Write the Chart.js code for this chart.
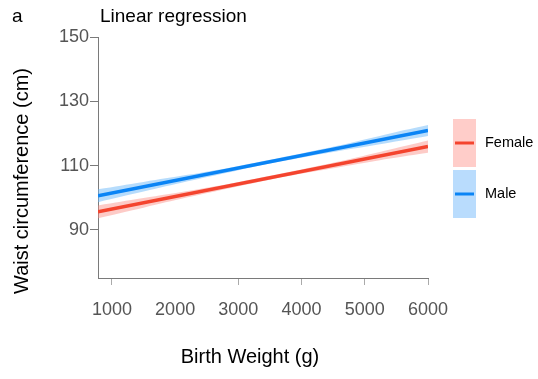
<!DOCTYPE html>
<html>
<head>
<meta charset="utf-8">
<script src="https://cdn.jsdelivr.net/npm/chart.js@4.4.1/dist/chart.umd.min.js"></script>
<style>
  html, body { margin: 0; padding: 0; background: #fff; }
  #wrap { width: 538px; height: 379px; }
</style>
</head>
<body>
<div id="wrap"><canvas id="regChart" width="538" height="379"></canvas></div>
<script>
// fitted lines (birth weight g -> waist cm)
const fitX = [780, 6000];
const maleFit = [100.6, 120.9];
const femaleFit = [95.6, 115.9];

// confidence band edges
const bandX = [780, 1500, 2200, 2900, 3500, 4100, 4800, 5400, 6000];
const maleUpper = [102.6, 104.9, 107.1, 109.5, 111.8, 114.2, 117.2, 120.0, 122.6];
const maleLower = [98.6, 101.9, 105.1, 108.1, 110.6, 112.8, 115.2, 117.2, 119.2];
const femaleUpper = [97.6, 99.9, 102.1, 104.5, 106.8, 109.2, 112.2, 115.0, 117.8];
const femaleLower = [93.6, 96.9, 100.1, 103.1, 105.6, 107.8, 110.2, 112.2, 114.0];

const xTicks = [1000, 2000, 3000, 4000, 5000, 6000];
const yTicks = [90, 110, 130, 150];

const seriesNames = ['Female', 'Male'];

const RED = '#f4442e';
const BLUE = '#0a84f5';
const RED_BAND = 'rgba(250, 140, 130, 0.45)';
const BLUE_BAND = 'rgba(110, 185, 250, 0.5)';
const AXIS = '#7a7a7a';
const FONT = "'Liberation Sans', Arial, sans-serif";

const pts = (xs, ys) => xs.map((x, i) => ({ x: x, y: ys[i] }));

function lineSet(label, xs, ys, color) {
    return { label, data: pts(xs, ys), borderColor: color, borderWidth: 3.5,
             pointRadius: 0, fill: false, tension: 0 };
}
function bandSet(label, xs, ys, color, fill) {
    return { label, data: pts(xs, ys), borderWidth: 0, borderColor: 'transparent',
             backgroundColor: color, pointRadius: 0, fill: fill, tension: 0.4 };
}

// panel letter, titles and the boxed legend on the right
const decorations = {
    id: 'decorations',
    afterDraw(chart) {
        const ctx = chart.ctx;
        ctx.save();
        ctx.fillStyle = '#000';
        ctx.textBaseline = 'middle';
        ctx.textAlign = 'left';
        ctx.font = '19px ' + FONT;
        ctx.fillText('a', 12, 17);
        ctx.fillText('Linear regression', 100, 17);

        ctx.font = '20px ' + FONT;
        ctx.textAlign = 'center';
        ctx.fillText('Birth Weight (g)', 250, 357);
        ctx.save();
        ctx.translate(22, 181);
        ctx.rotate(-Math.PI / 2);
        ctx.fillText('Waist circumference (cm)', 0, 0);
        ctx.restore();

        const rows = [
            { name: seriesNames[0], box: '#ffcdc9', line: RED, top: 119 },
            { name: seriesNames[1], box: '#b9dcfd', line: BLUE, top: 170 }
        ];
        ctx.textAlign = 'left';
        ctx.font = '14.5px ' + FONT;
        rows.forEach(r => {
            ctx.fillStyle = r.box;
            ctx.fillRect(453, r.top, 23, 48);
            ctx.strokeStyle = r.line;
            ctx.lineWidth = 3;
            ctx.beginPath();
            ctx.moveTo(455, r.top + 24);
            ctx.lineTo(474, r.top + 24);
            ctx.stroke();
            ctx.fillStyle = '#000';
            ctx.fillText(r.name, 485, r.top + 24);
        });
        ctx.restore();
    }
};

new Chart(document.getElementById('regChart'), {
    type: 'line',
    data: {
        datasets: [
            lineSet('Male', fitX, maleFit, BLUE),
            lineSet('Female', fitX, femaleFit, RED),
            bandSet('Male upper', bandX, maleUpper, BLUE_BAND, '+1'),
            bandSet('Male lower', bandX, maleLower, BLUE_BAND, false),
            bandSet('Female upper', bandX, femaleUpper, RED_BAND, '+1'),
            bandSet('Female lower', bandX, femaleLower, RED_BAND, false)
        ]
    },
    options: {
        responsive: false,
        animation: false,
        events: [],
        layout: { padding: { left: 0, top: 37, right: 110, bottom: 0 } },
        plugins: { legend: { display: false }, tooltip: { enabled: false } },
        scales: {
            x: {
                type: 'linear',
                min: 780,
                max: 6000,
                afterBuildTicks: s => { s.ticks = xTicks.map(v => ({ value: v })); },
                afterFit: s => { s.height = 101; },
                border: { color: AXIS, width: 1 },
                grid: {
                    drawOnChartArea: false,
                    tickLength: 7,
                    color: c => (c.tick && c.tick.value === 2000) ? 'rgba(0,0,0,0)' : '#aaa'
                },
                ticks: { color: '#555', font: { family: FONT, size: 18 }, padding: 14,
                         maxRotation: 0, callback: v => String(v) }
            },
            y: {
                min: 75,
                max: 150,
                afterBuildTicks: s => { s.ticks = yTicks.map(v => ({ value: v })); },
                afterFit: s => { s.width = 98; },
                border: { color: AXIS, width: 1 },
                grid: { drawOnChartArea: false, tickLength: 8, color: AXIS },
                ticks: { color: '#555', font: { family: FONT, size: 18 }, padding: 1,
                         callback: v => String(v) }
            }
        }
    },
    plugins: [decorations]
});
</script>
</body>
</html>
